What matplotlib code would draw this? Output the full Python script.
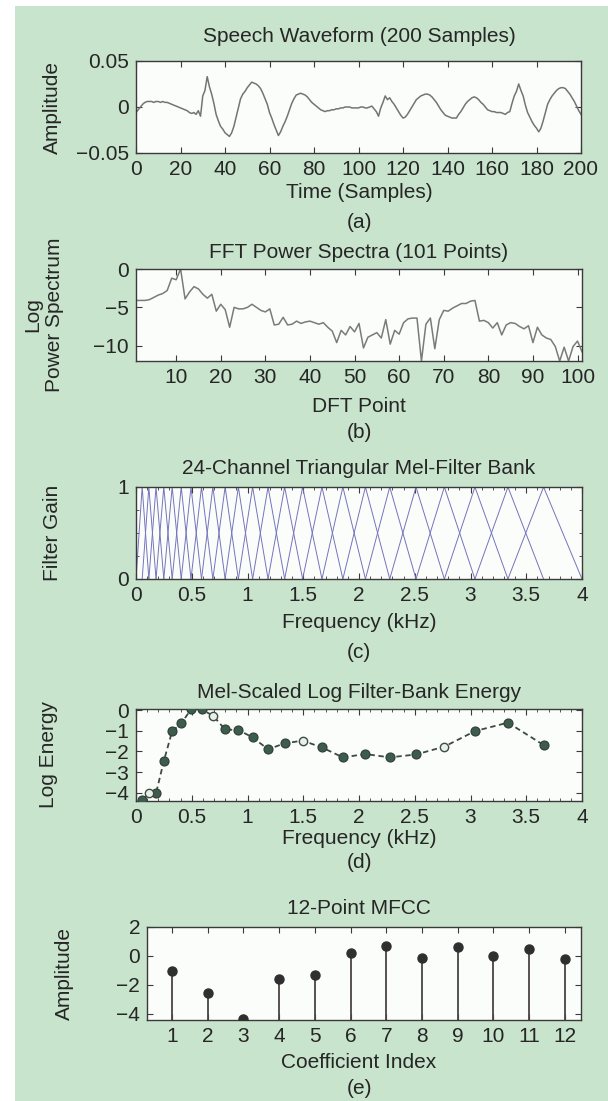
import matplotlib
matplotlib.use("Agg")
import matplotlib.pyplot as plt
import numpy as np
from matplotlib.patches import Rectangle
from matplotlib.ticker import MultipleLocator

# ---------------- data ----------------
# (a) speech waveform, samples 0..200
wave_samples = list(range(0, 201))
wave_amp = [
    -0.006, -0.003, 0.000, 0.003, 0.005, 0.006, 0.006, 0.006, 0.005, 0.006,
    0.006, 0.005, 0.006, 0.005, 0.005, 0.004, 0.003, 0.002, 0.001, 0.000,
    -0.001, -0.002, -0.003, -0.004, -0.006, -0.007, -0.006, -0.008, -0.004, -0.010,
    0.012, 0.018, 0.033, 0.022, 0.014, 0.004, -0.008, -0.015, -0.021, -0.024,
    -0.028, -0.030, -0.032, -0.028, -0.021, -0.011, -0.001, 0.009, 0.014, 0.017,
    0.021, 0.024, 0.027, 0.026, 0.025, 0.023, 0.020, 0.015, 0.009, 0.003,
    -0.006, -0.012, -0.019, -0.025, -0.031, -0.027, -0.021, -0.016, -0.010, -0.003,
    0.004, 0.009, 0.013, 0.014, 0.015, 0.014, 0.013, 0.011, 0.008, 0.005,
    0.003, 0.001, -0.001, -0.003, -0.004, -0.005, -0.004, -0.004, -0.003, -0.003,
    -0.002, -0.002, -0.001, -0.001, 0.000, 0.000, 0.000, -0.001, -0.001, -0.001,
    -0.001, 0.000, 0.000, -0.001, -0.001, 0.000, 0.001, -0.002, -0.005, -0.010,
    -0.001, 0.005, 0.012, 0.008, 0.010, 0.006, 0.003, -0.001, -0.005, -0.009,
    -0.012, -0.011, -0.008, -0.004, 0.000, 0.004, 0.008, 0.010, 0.012, 0.013,
    0.014, 0.014, 0.013, 0.011, 0.008, 0.005, 0.001, -0.003, -0.006, -0.009,
    -0.010, -0.011, -0.012, -0.012, -0.012, -0.008, -0.005, -0.001, 0.003, 0.006,
    0.008, 0.010, 0.011, 0.010, 0.008, 0.005, 0.003, 0.000, -0.003, -0.004,
    -0.005, -0.005, -0.006, -0.006, -0.006, -0.007, -0.008, -0.006, -0.005, 0.004,
    0.012, 0.017, 0.025, 0.018, 0.012, 0.002, -0.006, -0.011, -0.016, -0.020,
    -0.023, -0.027, -0.023, -0.015, -0.006, 0.003, 0.008, 0.012, 0.015, 0.018,
    0.020, 0.021, 0.021, 0.020, 0.017, 0.014, 0.010, 0.006, 0.001, -0.004,
    -0.008,
]

# (b) log power spectrum, DFT points 1..101
dft_points = list(range(1, 102))
log_power = [
    -4.1, -4.1, -4.1, -4.0, -3.7, -3.4, -3.2, -2.8, -1.2, -1.4,
    0.0, -3.9, -3.0, -2.3, -2.6, -3.3, -3.8, -3.3, -5.5, -4.6,
    -5.3, -7.6, -5.0, -5.2, -5.2, -5.0, -4.6, -5.0, -5.4, -5.6,
    -5.2, -7.3, -7.2, -6.3, -7.3, -7.2, -6.8, -7.1, -6.9, -6.8,
    -7.0, -7.2, -7.0, -7.6, -8.1, -9.6, -8.0, -8.6, -7.5, -8.2,
    -7.1, -10.3, -8.9, -8.6, -8.3, -9.0, -6.6, -9.8, -8.0, -8.5,
    -7.0, -6.5, -6.4, -6.4, -12.0, -7.2, -6.4, -10.4, -6.6, -5.4,
    -5.5, -5.1, -4.8, -4.5, -4.5, -4.2, -4.1, -6.8, -6.7, -7.0,
    -7.7, -7.0, -8.6, -7.3, -7.0, -7.1, -7.5, -7.8, -7.4, -9.6,
    -7.6, -8.6, -9.0, -9.2, -10.1, -12.0, -10.2, -12.0, -10.1, -9.4,
    -10.8,
]

# (c) mel filter-bank edge frequencies (kHz): 24 triangular filters
mel_edges_khz = [
    0.0000, 0.0554, 0.1152, 0.1797, 0.2493, 0.3244, 0.4056, 0.4931, 0.5875,
    0.6894, 0.7993, 0.9180, 1.0460, 1.1842, 1.3333, 1.4943, 1.6679, 1.8553,
    2.0576, 2.2758, 2.5113, 2.7655, 3.0398, 3.3358, 3.6552, 4.0000,
]

# (d) log filter-bank energy at each filter center
fb_centers_khz = mel_edges_khz[1:25]
fb_log_energy = [
    -4.35, -4.03, -4.03, -2.47, -1.02, -0.65, 0.03, 0.03, -0.27, -0.94,
    -0.97, -1.32, -1.90, -1.61, -1.48, -1.81, -2.29, -2.13, -2.29, -2.15,
    -1.77, -1.02, -0.61, -1.69,
]
fb_hollow = [2, 9, 15, 21]  # 1-based indices that look hollow

# (e) 12-point MFCC
mfcc_index = list(range(1, 13))
mfcc_vals = [-1.07, -2.56, -4.40, -1.63, -1.30, 0.23, 0.67, -0.12, 0.63, 0.00, 0.44, -0.23]

# ---------------- style ----------------
plt.rcParams['font.family'] = ['Liberation Sans', 'DejaVu Sans']
FS = 15
BG = '#c8e4cc'
AXBG = '#fbfdfb'
TXT = '#262626'
SPINE = '#3a3a3a'

W, H = 608, 1101
fig = plt.figure(figsize=(W / 100, H / 100), dpi=100)
fig.patch.set_facecolor('white')
fig.patches.append(Rectangle((15 / W, 0), 1 - 15 / W, 1 - 6 / H,
                             transform=fig.transFigure, facecolor=BG,
                             edgecolor='none', zorder=-10))


def add_axes(l, r, t, b):
    ax = fig.add_axes([l / W, 1 - b / H, (r - l) / W, (b - t) / H])
    ax.set_facecolor(AXBG)
    for s in ax.spines.values():
        s.set_color(SPINE)
        s.set_linewidth(1.0)
    ax.tick_params(which='major', direction='in', top=True, right=True,
                   length=4, width=0.8, color=SPINE, labelsize=FS,
                   labelcolor=TXT, pad=5)
    ax.tick_params(which='minor', direction='in', top=True, right=True,
                   length=2, width=0.6, color=SPINE)
    return ax


def ftext(x, y, s, **kw):
    fig.text(x / W, 1 - y / H, s, ha='center', va='center', fontsize=FS,
             color=TXT, **kw)


CX = 359

# (a)
ax = add_axes(136, 581, 61, 153)
ax.plot(wave_samples, wave_amp, color='#747474', lw=1.1)
ax.set_xlim(0, 200)
ax.set_ylim(-0.05, 0.05)
ax.set_xticks(range(0, 201, 20))
ax.set_yticks([-0.05, 0, 0.05])
ax.set_yticklabels(['\u22120.05', '0', '0.05'])
ftext(CX, 37, 'Speech Waveform (200 Samples)')
ftext(CX, 192, 'Time (Samples)')
ftext(CX, 222, '(a)')
ftext(52, 107, 'Amplitude', rotation=90)

# (b)
ax = add_axes(136, 582, 269, 361)
ax.plot(dft_points, log_power, color='#7a7a7a', lw=1.1)
ax.set_xlim(1, 101)
ax.set_ylim(-12, 0)
ax.set_xticks(range(10, 101, 10))
ax.set_yticks([-10, -5, 0])
ftext(CX, 253, 'FFT Power Spectra (101 Points)')
ftext(CX, 407, 'DFT Point')
ftext(CX, 433, '(b)')
ftext(44, 315, 'Log\nPower Spectrum', rotation=90, linespacing=1.2)

# (c)
ax = add_axes(136, 582, 487, 579)
for k in range(1, 25):
    ax.plot(mel_edges_khz[k - 1:k + 2], [0, 1, 0], color='#7474bc', lw=0.7)
ax.set_xlim(0, 4)
ax.set_ylim(0, 1)
ax.set_xticks(np.arange(0, 4.01, 0.5))
ax.set_xticklabels(['0', '0.5', '1', '1.5', '2', '2.5', '3', '3.5', '4'])
ax.set_yticks([0, 1])
ax.xaxis.set_minor_locator(MultipleLocator(0.1))
ax.yaxis.set_minor_locator(MultipleLocator(0.25))
ftext(CX, 468, '24-Channel Triangular Mel-Filter Bank')
ftext(CX, 622, 'Frequency (kHz)')
ftext(CX, 652, '(c)')
ftext(52, 533, 'Filter Gain', rotation=90)

# (d)
ax = add_axes(136, 582, 709, 801)
ax.plot(fb_centers_khz, fb_log_energy, linestyle=(0, (3, 2)), color='#3c4a42',
        lw=1.3, zorder=2)
filled_x = [c for i, c in enumerate(fb_centers_khz, 1) if i not in fb_hollow]
filled_y = [v for i, v in enumerate(fb_log_energy, 1) if i not in fb_hollow]
hollow_x = [c for i, c in enumerate(fb_centers_khz, 1) if i in fb_hollow]
hollow_y = [v for i, v in enumerate(fb_log_energy, 1) if i in fb_hollow]
ax.plot(filled_x, filled_y, 'o', ms=6.5, mfc='#3d5c4c', mec='#2e3e36', mew=0.8,
        zorder=3)
ax.plot(hollow_x, hollow_y, 'o', ms=6, mfc='#e8f0ea', mec='#3d4d44', mew=1.0,
        zorder=3)
ax.set_xlim(0, 4)
ax.set_ylim(-4.4, 0.05)
ax.set_xticks(np.arange(0, 4.01, 0.5))
ax.set_xticklabels(['0', '0.5', '1', '1.5', '2', '2.5', '3', '3.5', '4'])
ax.set_yticks([-4, -3, -2, -1, 0])
ax.xaxis.set_minor_locator(MultipleLocator(0.1))
ftext(CX, 693, 'Mel-Scaled Log Filter-Bank Energy')
ftext(CX, 839, 'Frequency (kHz)')
ftext(CX, 863, '(d)')
ftext(48, 755, 'Log Energy', rotation=90)

# (e)
ax = add_axes(147, 581, 927, 1020)
YMIN_E = -4.45
ax.vlines(mfcc_index, YMIN_E, mfcc_vals, color='#4a4440', lw=1.3, zorder=2)
ax.plot(mfcc_index, mfcc_vals, 'o', ms=6.5, mfc='#2f2f2f', mec='#2f2f2f',
        zorder=3)
ax.set_xlim(0.3, 12.45)
ax.set_ylim(YMIN_E, 2)
ax.set_xticks(mfcc_index)
ax.set_yticks([-4, -2, 0, 2])
ftext(CX, 908, '12-Point MFCC')
ftext(CX, 1063, 'Coefficient Index')
ftext(CX, 1088, '(e)')
ftext(64, 974, 'Amplitude', rotation=90)

fig.savefig('out.png', dpi=100, facecolor=fig.get_facecolor())
